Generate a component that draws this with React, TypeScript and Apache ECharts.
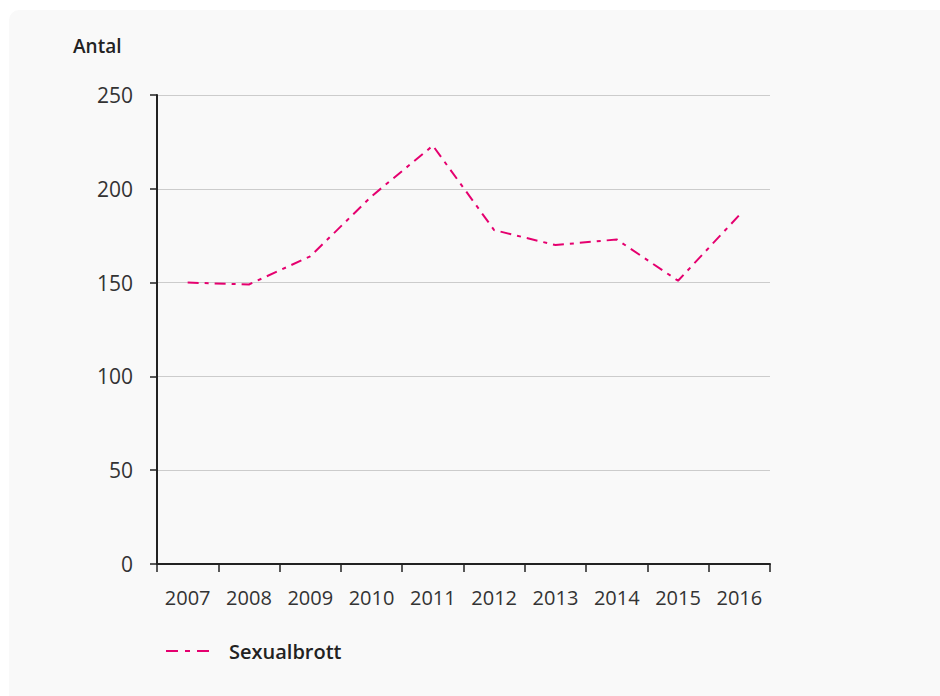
import React, { useEffect, useRef } from "react";
import * as echarts from "echarts";

const categories = ["2007", "2008", "2009", "2010", "2011", "2012", "2013", "2014", "2015", "2016"];
const sexualbrott = [150, 149, 164, 196, 223, 178, 170, 173, 151, 186];
const yTicks = { min: 0, max: 250, interval: 50 };
const seriesName = "Sexualbrott";
const yTitle = "Antal";

const FONT = "'Open Sans', sans-serif";
const PINK = "#e5006f";
const DASH = [11, 6, 4, 6];

export default function App() {
  const ref = useRef<HTMLDivElement>(null);
  useEffect(() => {
    if (!ref.current) return;
    const chart = echarts.init(ref.current, null, { renderer: "svg" });
    chart.setOption({
      animation: false,
      backgroundColor: "#ffffff",
      graphic: [
        {
          type: "rect",
          z: -10,
          shape: { x: 9, y: 10, width: 960, height: 720, r: 10 },
          style: { fill: "#f9f9f9" },
        },
        {
          type: "text",
          x: 73,
          y: 46,
          style: { text: yTitle, font: `600 19px ${FONT}`, fill: "#222", verticalAlign: "middle" },
        },
        {
          type: "line",
          shape: { x1: 166, y1: 651, x2: 212, y2: 651 },
          style: { stroke: PINK, lineWidth: 2, lineDash: [12, 7, 5, 7] },
        },
        {
          type: "text",
          x: 229,
          y: 651,
          style: {
            text: seriesName,
            font: `600 20px ${FONT}`,
            fill: "#222",
            verticalAlign: "middle",
          },
        },
      ],
      grid: { left: 157, right: 170, top: 95, bottom: 132 },
      xAxis: {
        type: "category",
        data: categories,
        boundaryGap: true,
        axisLine: { lineStyle: { color: "#222", width: 2 } },
        axisTick: { show: true, length: 8, lineStyle: { color: "#222", width: 1.5 } },
        axisLabel: { margin: 23, fontFamily: FONT, fontSize: 20, color: "#333", interval: 0 },
      },
      yAxis: {
        type: "value",
        min: yTicks.min,
        max: yTicks.max,
        interval: yTicks.interval,
        axisLine: { show: true, lineStyle: { color: "#222", width: 2 } },
        axisTick: { show: true, length: 7, lineStyle: { color: "#222", width: 1.5 } },
        axisLabel: { margin: 24, fontFamily: FONT, fontSize: 21, color: "#333" },
        splitLine: { lineStyle: { color: "#cccccc", width: 1 } },
      },
      series: [
        {
          name: seriesName,
          type: "line",
          data: sexualbrott,
          symbol: "none",
          lineStyle: { color: PINK, width: 2, type: DASH },
          itemStyle: { color: PINK },
        },
      ],
    });
    return () => chart.dispose();
  }, []);
  return (
    <div style={{ position: "fixed", left: 0, top: 0, width: 940, height: 696 }}>
      <div ref={ref} style={{ width: 940, height: 696 }} />
    </div>
  );
}
